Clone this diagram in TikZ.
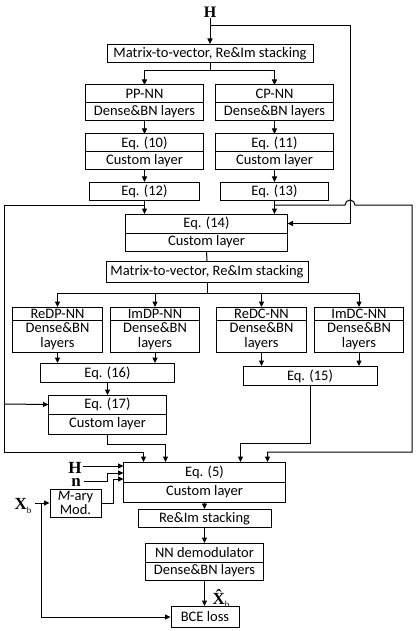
\documentclass[tikz,border=0pt]{standalone}
\usepackage{fontspec}
\setmainfont{Carlito}
\newfontfamily\tnr{Liberation Serif}
\usetikzlibrary{arrows.meta}
\newcommand\myfs{\fontsize{14.5}{14.5}\selectfont}
\newcommand\twobox[8]{%
  \node[part, minimum width=#4pt, minimum height=#5pt, anchor=north] (#1) at (#2,#3) {#7};
  \node[part, minimum width=#4pt, minimum height=#6pt, anchor=north] (#1b) at (#1.south) {#8};
  \draw (#1.north west) rectangle (#1b.south east);
  \draw (#1.south west) -- (#1.south east);}
\begin{document}
\begin{tikzpicture}[x=1pt,y=-1pt, line width=1pt,
  part/.style={inner sep=0pt, font=\myfs, align=center},
  box/.style={part, draw},
  arr/.style={-{Triangle[length=5.5pt,width=5pt]}},
  lbl/.style={font=\tnr\bfseries\fontsize{16}{16}\selectfont, inner sep=0pt},
  lblb/.style={font=\tnr\bfseries\fontsize{17}{17}\selectfont, inner sep=0pt}]
\useasboundingbox (0,0) rectangle (415,631);
% labels
\node[lbl, anchor=base] (H) at (210,18) {H};
\node[lblb, anchor=base] (H2) at (75,473) {H};
\node[lblb, anchor=base] (n) at (76,486) {n};
\node[lblb, anchor=base west] (xb) at (14,509) {X\raisebox{-4pt}{\tnr\mdseries\fontsize{9}{9}\selectfont b}};
\node[lblb, anchor=base west] (xh) at (212,604) {\^{X}\raisebox{-3pt}{\tnr\mdseries\fontsize{9}{9}\selectfont b}};
% boxes
\node[box, minimum width=206pt, minimum height=18pt, anchor=north] (mv1) at (210,44) {Matrix-to-vector, Re\&Im stacking};
\twobox{pp}{144.5}{85}{117}{17}{17}{PP-NN}{Dense\&BN layers}
\twobox{cp}{274.5}{85}{117}{17}{17}{CP-NN}{Dense\&BN layers}
\twobox{eqa}{144.5}{134}{117}{17}{17}{Eq. (10)}{Custom layer}
\twobox{eqb}{274.5}{134}{117}{17}{17}{Eq. (11)}{Custom layer}
\node[box, minimum width=110pt, minimum height=18pt, anchor=north] (eqc) at (144.5,182) {Eq. (12)};
\node[box, minimum width=108pt, minimum height=18pt, anchor=north] (eqd) at (274.5,182) {Eq. (13)};
\twobox{eqe}{206.5}{214}{161}{18}{17}{Eq. (14)}{Custom layer}
\node[box, minimum width=202pt, minimum height=21pt, anchor=north] (mv2) at (207,261) {Matrix-to-vector, Re\&Im stacking};
\twobox{redp}{57.5}{307}{89}{12.6}{30.7}{ReDP-NN}{Dense\&BN\\layers}
\twobox{imdp}{155}{307}{88}{12.6}{30.7}{ImDP-NN}{Dense\&BN\\layers}
\twobox{redc}{261.5}{307}{89}{12.6}{30.7}{ReDC-NN}{Dense\&BN\\layers}
\twobox{imdc}{359}{307}{88}{12.6}{30.7}{ImDC-NN}{Dense\&BN\\layers}
\node[box, minimum width=134pt, minimum height=19pt, anchor=north] (eqf) at (107.5,363) {Eq. (16)};
\node[box, minimum width=134pt, minimum height=19pt, anchor=north] (eqg) at (310,366) {Eq. (15)};
\twobox{eqh}{107.5}{395}{117}{18}{19}{Eq. (17)}{Custom layer}
\twobox{eqi}{204.5}{462}{161}{19}{19}{Eq. (5)}{Custom layer}
\node[box, minimum width=51pt, minimum height=28pt] (mary) at (75.5,503) {\textit{M}-ary\\Mod.};
\node[box, minimum width=133pt, minimum height=18pt, anchor=north] (rei) at (204.5,509) {Re\&Im stacking};
\twobox{nnd}{204.5}{543}{117}{18}{17}{NN demodulator}{Dense\&BN layers}
\node[box, minimum width=68pt, minimum height=21pt, anchor=north] (bce) at (205,606) {BCE loss};
% coordinates
\coordinate (fbs) at (210,26);
\coordinate (fbc) at (350,26);
\coordinate (ll) at (144.5,205);
\coordinate (lt) at (4,205);
\coordinate (lb) at (4,452);
\coordinate (lk) at (4,404);
\coordinate (rl) at (274.5,205);
\coordinate (rj) at (345,205);
\coordinate (rt) at (412,205);
\coordinate (rb) at (412,452);
\coordinate (hin) at (83,466);
\coordinate (nin) at (84,481);
\coordinate (nc) at (107,481);
\coordinate (nk) at (107,473);
\coordinate (mk) at (113,479);
\coordinate (xk) at (35,503);
\coordinate (xd) at (41,503);
\coordinate (gk) at (310,443);
% connectors
\draw[arr] (H) -- (mv1.north);
\draw[arr] (fbs) -- (fbc) |- (eqe.east);
\draw (mv1.south) -- ++(0,8) coordinate (f1);
\draw[arr] (f1) -| (pp.north);
\draw[arr] (f1) -| (cp.north);
\draw[arr] (ppb.south) -- (eqa.north);
\draw[arr] (cpb.south) -- (eqb.north);
\draw[arr] (eqab.south) -- (eqc.north);
\draw[arr] (eqbb.south) -- (eqd.north);
\draw[arr] (eqc.south) -- (eqc.south |- eqe.north);
\draw[arr] (eqd.south) -- (eqd.south |- eqe.north);
\draw (eqeb.south) -- (mv2.north);
\draw (mv2.south) -- ++(0,10) coordinate (f2);
\draw[arr] (f2) -| (redp.north);
\draw[arr] (f2) -| (imdp.north);
\draw[arr] (f2) -| (redc.north);
\draw[arr] (f2) -| (imdc.north);
\draw[arr] (redpb.south) -- (redpb.south |- eqf.north);
\draw[arr] (imdpb.south) -- (imdpb.south |- eqf.north);
\draw[arr] (redcb.south) -- (redcb.south |- eqg.north);
\draw[arr] (imdcb.south) -- (imdcb.south |- eqg.north);
\draw[arr] (eqf.south) -- (eqh.north);
% loops
\draw[arr] (ll) -- (lt) -- (lb) -| ([xshift=20pt]eqi.north west);
\draw[arr] (lk) -- (eqh.west);
\draw[arr] (rl) -- (rj) arc[start angle=180, end angle=0, radius=5pt] -- (rt) -- (rb) -| ([xshift=-18pt]eqi.north east);
\draw[arr] (eqhb.south) -- ++(0,10) -| ([xshift=42pt]eqi.north west);
\draw[arr] (eqg.south) -- (gk) -| ([xshift=117pt]eqi.north west);
% inputs of Eq. (5)
\draw[arr] (hin) -- (hin -| eqi.west);
\draw[arr] (nin) -- (nc) -- (nk) -- (nk -| eqi.west);
\draw[arr] (mary.east) -| (mk) -- (mk -| eqi.west);
\draw[arr] (xk) -- (mary.west);
\draw[arr] (xd) |- (bce.west);
% bottom chain
\draw[arr] (eqib.south) -- (rei.north);
\draw[arr] (rei.south) -- (nnd.north);
\draw[arr] (nndb.south) -- (nndb.south |- bce.north);
\end{tikzpicture}
\end{document}
